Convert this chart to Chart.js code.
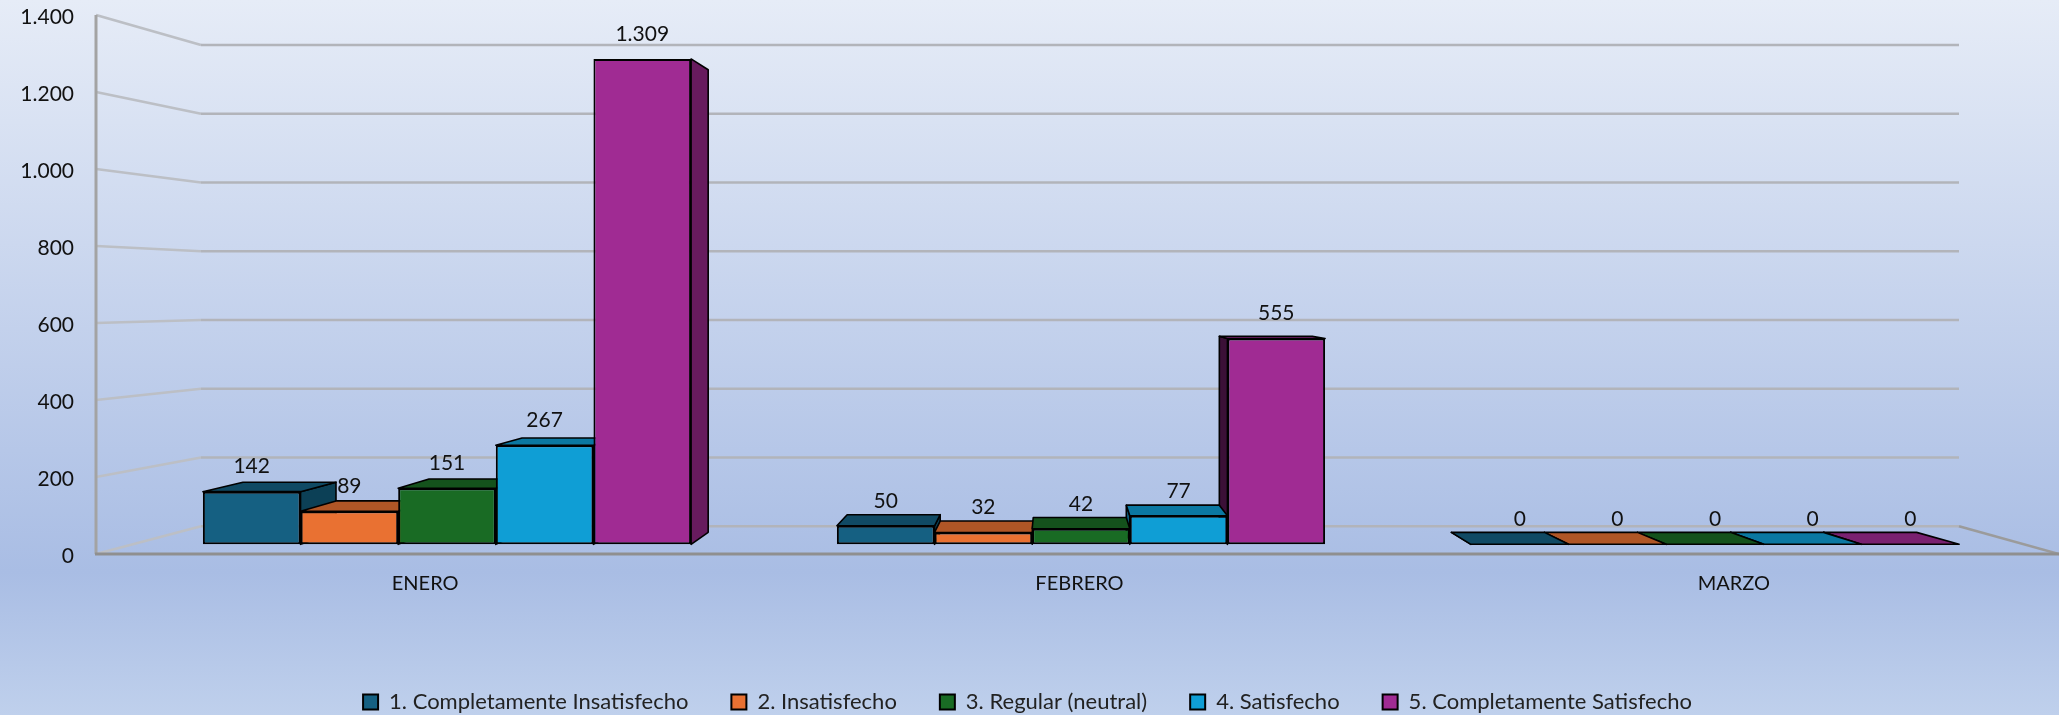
<!DOCTYPE html>
<html><head><meta charset="utf-8">
<style>html,body{margin:0;padding:0;background:#b5c7e8}canvas{display:block}</style>
<script src="https://cdn.jsdelivr.net/npm/chart.js@4/dist/chart.umd.js"></script>
</head><body>
<div style="width:2059px;height:715px"><canvas id="c" width="2059" height="715"></canvas></div>
<script>
const categories = ['ENERO','FEBRERO','MARZO'];
const seriesNames = ['1. Completamente Insatisfecho','2. Insatisfecho','3. Regular (neutral)','4. Satisfecho','5. Completamente Satisfecho'];
const completamenteInsatisfecho = [142,50,0];
const insatisfecho = [89,32,0];
const regular = [151,42,0];
const satisfecho = [267,77,0];
const completamenteSatisfecho = [1309,555,0];
const seriesValues = [completamenteInsatisfecho,insatisfecho,regular,satisfecho,completamenteSatisfecho];
const frontColors = ['#156082','#E97132','#196B24','#0F9ED5','#A02B93'];
const topColors = ['#104a64','#b05626','#14521c','#0b78a2','#7a2170'];
const rightColors = ['#0c4056','#9a4b21','#104618','#0a6a8f','#671b5e'];
const leftColors = ['#0a3244','#7d3d1b','#0d3a13','#085a79','#3b1037'];

const FONT = 'Lato';
const fmt = v => String(v).replace(/\B(?=(\d{3})+$)/g,'.');

// depth projection
const VP = {x:1055,y:290}, BAR_R = 0.953;
const BACK = {x0:201,x1:1959,yTop:45,yBase:526.2};

const scene = {
  id:'scene',
  afterLayout(chart){
    const l=chart.legend;
    l.top+=8;l.bottom+=8;l.left-=2;l.right-=2;
  },
  beforeDraw(chart){
    const {ctx,width,height} = chart;
    const g = ctx.createLinearGradient(0,0,0,height);
    g.addColorStop(0,'#e6ecf7');
    g.addColorStop(0.80,'#a9bde4');
    g.addColorStop(1,'#bfd0ec');
    ctx.save();ctx.fillStyle=g;ctx.fillRect(0,0,width,height);ctx.restore();
  },
  beforeDatasetsDraw(chart){
    const {ctx} = chart, y = chart.scales.y, x=chart.scales.x;
    const L=x.left,R=x.right,F0=y.bottom,FT=y.top;
    const backY = v => BACK.yBase + (BACK.yTop-BACK.yBase)*(F0-y.getPixelForValue(v))/(F0-FT);
    ctx.save();ctx.lineCap='butt';
    for(const t of y.ticks){
      const fy=y.getPixelForValue(t.value), by=backY(t.value);
      ctx.strokeStyle='#bcbfc5';ctx.lineWidth=2.6;
      ctx.beginPath();ctx.moveTo(L,fy);ctx.lineTo(BACK.x0,by);ctx.stroke();
      ctx.strokeStyle='#b2b4ba';ctx.lineWidth=2.4;
      ctx.beginPath();ctx.moveTo(BACK.x0,by);ctx.lineTo(BACK.x1,by);ctx.stroke();
    }
    ctx.strokeStyle='#9b9b9b';ctx.lineWidth=2.6;
    ctx.beginPath();ctx.moveTo(BACK.x1,BACK.yBase);ctx.lineTo(R,F0);ctx.stroke();
    ctx.strokeStyle='#a3a3a3';ctx.lineWidth=3;
    ctx.beginPath();ctx.moveTo(L,FT);ctx.lineTo(L,F0);ctx.stroke();
    ctx.strokeStyle='#8f8f8f';ctx.lineWidth=3;
    ctx.beginPath();ctx.moveTo(L-1,F0);ctx.lineTo(R,F0);ctx.stroke();

    // depth faces of the bars
    const back = p => ({x:VP.x+(p.x-VP.x)*BAR_R,y:VP.y+(p.y-VP.y)*BAR_R});
    const poly=(pts,fill)=>{ctx.beginPath();pts.forEach((p,i)=>i?ctx.lineTo(p.x,p.y):ctx.moveTo(p.x,p.y));ctx.closePath();ctx.fillStyle=fill;ctx.fill();ctx.strokeStyle='#000';ctx.lineWidth=1.6;ctx.lineJoin='round';ctx.stroke();};
    const items=[];
    seriesValues.forEach((_,ds)=>chart.getDatasetMeta(ds).data.forEach(el=>items.push({ds,el})));
    items.sort((a,b)=>Math.abs(b.el.x-VP.x)-Math.abs(a.el.x-VP.x));
    for(const {ds,el} of items){
      const xl=el.x-el.width/2,xr=el.x+el.width/2,yt=el.y,yb=el.base;
      const tl={x:xl,y:yt},tr={x:xr,y:yt},bl={x:xl,y:yb},br={x:xr,y:yb};
      if(xr<VP.x) poly([tr,back(tr),back(br),br],rightColors[ds]);
      if(xl>VP.x) poly([tl,back(tl),back(bl),bl],leftColors[ds]);
      if(yt>VP.y) poly([tl,back(tl),back(tr),tr],topColors[ds]);
    }
    ctx.restore();
  },
  afterDatasetsDraw(chart){
    const {ctx}=chart;
    ctx.save();ctx.fillStyle='#111';ctx.font='21px '+FONT;ctx.textAlign='center';ctx.textBaseline='middle';
    seriesValues.forEach((vals,ds)=>chart.getDatasetMeta(ds).data.forEach((el,i)=>{
      ctx.fillText(fmt(vals[i]),el.x,el.y-25);
    }));
    ctx.restore();
  }
};

new Chart(document.getElementById('c'),{
  type:'bar',
  data:{
    labels:categories,
    datasets:seriesNames.map((name,s)=>({
      label:name,
      data:seriesValues[s].map((v,i)=>({x:i,y:v})),
      xAxisID:'xBars',yAxisID:'yBars',
      backgroundColor:frontColors[s],borderColor:'#000',borderWidth:2,borderSkipped:false,
      barPercentage:1,categoryPercentage:0.77
    }))
  },
  options:{
    responsive:false,animation:false,
    layout:{padding:{top:15,left:0,right:0,bottom:0}},
    scales:{
      x:{type:'category',axis:'x',offset:true,position:'bottom',grid:{display:false},border:{display:false},
         ticks:{color:'#111',font:{family:FONT,size:20},padding:10,labelOffset:2,maxRotation:0},
         afterFit(s){s.height=86;s.paddingLeft=0;s.paddingRight=0;}},
      y:{type:'linear',axis:'y',position:'left',min:0,max:1400,grid:{display:false},border:{display:false},
         ticks:{stepSize:200,color:'#111',font:{family:FONT,size:21},padding:14,labelOffset:2,callback:v=>fmt(v)},
         afterFit(s){s.width=96;s.paddingTop=0;s.paddingBottom=0;}},
      xBars:{type:'linear',axis:'x',display:false,offset:false,min:-0.5536,max:2.5426,grid:{display:false},
         afterBuildTicks(s){s.ticks=categories.map((_,i)=>({value:i}));}},
      yBars:{type:'linear',axis:'y',display:false,min:-26.1,max:1427.5,grid:{display:false}}
    },
    plugins:{
      tooltip:{enabled:false},
      legend:{position:'bottom',labels:{boxWidth:15,boxHeight:15,padding:43,color:'#222',font:{family:FONT,size:22}}}
    }
  },
  plugins:[scene]
});
</script>
</body></html>
